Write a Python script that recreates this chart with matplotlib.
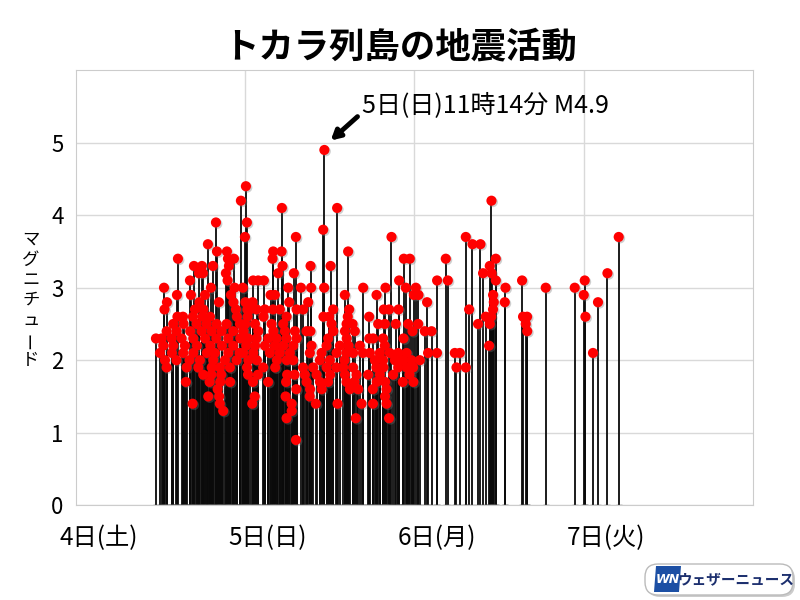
import matplotlib
matplotlib.use("Agg")
import matplotlib.pyplot as plt
import matplotlib.patheffects as pe
from matplotlib.patches import FancyBboxPatch, Polygon
import numpy as np

plt.rcParams['font.family'] = ['Noto Sans CJK JP', 'DejaVu Sans']

title = "トカラ列島の地震活動"
ylabel = "マグニチュード"
day_labels = ["4日(土)", "5日(日)", "6日(月)", "7日(火)"]
main_hour = 35.23   # 5日 11:14, hours since 4日 0:00
main_mag = 4.9
main_text = "5日(日)11時14分 M4.9"

# (hours since 4日 0:00, magnitude)
quakes_4 = [
    (24.10, 4.4), (23.39, 4.2), (24.24, 3.9), (23.96, 3.7), (19.85, 3.9), (18.71, 3.6),
    (19.99, 3.5), (21.41, 3.5), (14.46, 3.4), (21.55, 3.4), (22.40, 3.4), (21.69, 3.3),
    (16.73, 3.3), (17.86, 3.3), (19.42, 3.3), (17.44, 3.2), (18.00, 3.2), (21.26, 3.2),
    (16.16, 3.1), (21.50, 3.1), (12.48, 3.0), (19.14, 3.0), (22.50, 3.0), (23.67, 3.0),
    (12.90, 2.8), (14.32, 2.9), (16.30, 2.9), (18.29, 2.9), (21.97, 2.9), (12.55, 2.7),
    (17.51, 2.8), (20.27, 2.8), (22.33, 2.8), (24.03, 2.8),
    (16.87, 2.7), (18.07, 2.7), (22.68, 2.7), (24.30, 2.7),
    (14.39, 2.6), (15.17, 2.6), (16.59, 2.6), (17.95, 2.6), (19.00, 2.6), (22.82, 2.6), (24.35, 2.6),
    (13.79, 2.5), (15.25, 2.5), (17.11, 2.5), (18.53, 2.5), (19.95, 2.5), (21.36, 2.5), (23.25, 2.5),
    (12.86, 2.4), (14.28, 2.4), (16.20, 2.4), (17.82, 2.4), (19.24, 2.4), (20.65, 2.4), (22.30, 2.4),
    (23.72, 2.4),
    (11.34, 2.3), (12.15, 2.3), (13.57, 2.3), (14.98, 2.3), (16.63, 2.3), (18.30, 2.3), (19.90, 2.3),
    (21.59, 2.3), (23.30, 2.3), (24.43, 2.3),
    (12.38, 2.2), (13.80, 2.2), (15.45, 2.2), (17.15, 2.2), (19.05, 2.2), (20.70, 2.2), (22.30, 2.2),
    (24.15, 2.2),
    (11.91, 2.1), (13.60, 2.1), (15.21, 2.1), (16.65, 2.1), (18.55, 2.1), (19.71, 2.1), (21.60, 2.1),
    (23.20, 2.1),
    (12.62, 2.0), (14.25, 2.0), (16.10, 2.0), (17.58, 2.0), (19.47, 2.0), (21.12, 2.0), (22.78, 2.0),
    (12.85, 1.9), (15.69, 1.9), (17.34, 1.9), (19.25, 1.9), (20.41, 1.9), (21.83, 1.9),
    (18.05, 1.8), (19.20, 1.8), (20.60, 1.8),
    (15.59, 1.7), (18.95, 1.7), (20.45, 1.7), (21.85, 1.7),
    (20.09, 1.6), (18.76, 1.5), (20.31, 1.5), (16.54, 1.4), (20.40, 1.4), (20.88, 1.3),
]

quakes_5am = [
    (29.20, 4.1), (37.04, 4.1), (31.19, 3.7), (35.06, 3.8), (38.60, 3.5), (27.97, 3.5),
    (29.16, 3.5), (27.88, 3.4), (29.30, 3.3), (33.27, 3.3), (36.11, 3.3), (28.68, 3.2),
    (30.90, 3.2), (25.13, 3.1), (25.84, 3.1), (26.65, 3.1), (30.10, 3.0), (31.90, 3.0),
    (33.35, 3.0), (35.20, 3.0), (27.60, 2.9), (28.21, 2.9), (38.13, 2.9), (25.05, 2.8),
    (30.24, 2.8), (32.93, 2.8),
    (24.67, 2.7), (25.62, 2.7), (26.79, 2.7), (27.95, 2.7), (28.92, 2.7), (31.29, 2.7), (32.22, 2.7),
    (36.48, 2.7),
    (26.60, 2.6), (29.87, 2.6), (35.10, 2.6), (35.91, 2.6), (38.55, 2.6),
    (24.00, 2.5), (25.38, 2.5), (27.74, 2.5), (29.39, 2.5), (36.25, 2.5), (38.38, 2.5),
    (23.75, 2.4), (25.85, 2.4), (28.00, 2.4), (29.63, 2.4), (31.05, 2.4), (32.70, 2.4), (33.25, 2.4),
    (36.50, 2.4), (38.15, 2.4),
    (24.20, 2.3), (25.60, 2.3), (27.26, 2.3), (28.45, 2.3), (29.85, 2.3), (31.30, 2.3), (35.77, 2.3),
    (38.40, 2.3),
    (25.40, 2.2), (26.80, 2.2), (28.20, 2.2), (29.40, 2.2), (30.81, 2.2), (33.41, 2.2), (35.54, 2.2),
    (37.43, 2.2),
    (23.70, 2.1), (25.15, 2.1), (27.50, 2.1), (28.90, 2.1), (30.34, 2.1), (33.17, 2.1), (34.83, 2.1),
    (36.96, 2.1), (38.35, 2.1),
    (24.45, 2.0), (25.65, 2.0), (28.50, 2.0), (29.90, 2.0), (30.80, 2.0), (34.59, 2.0), (36.01, 2.0),
    (38.10, 2.0),
    (24.25, 1.9), (26.55, 1.9), (28.25, 1.9), (32.20, 1.9), (33.64, 1.9), (35.55, 1.9), (36.95, 1.9),
    (24.40, 1.8), (25.80, 1.8), (29.95, 1.8), (31.00, 1.8), (32.46, 1.8), (34.12, 1.8), (36.05, 1.8),
    (25.10, 1.7), (27.25, 1.7), (29.80, 1.7), (32.70, 1.7), (34.60, 1.7), (35.75, 1.7),
    (31.25, 1.6), (33.20, 1.6), (34.85, 1.6),
    (25.35, 1.5), (29.73, 1.5), (33.15, 1.5),
    (25.00, 1.4), (30.58, 1.4), (34.02, 1.4), (37.10, 1.4),
    (30.60, 1.3), (29.87, 1.2), (31.20, 0.9),
]

quakes_5pm = [
    (44.75, 3.7), (46.50, 3.4), (47.35, 3.4), (52.45, 3.4), (45.83, 3.1), (51.22, 3.1),
    (52.74, 3.1), (40.73, 3.0), (43.90, 3.0), (46.78, 3.0), (48.20, 3.0), (42.63, 2.9),
    (47.92, 2.9), (48.58, 2.9), (49.80, 2.8),
    (38.74, 2.7), (43.66, 2.7), (44.42, 2.7), (45.75, 2.7), (41.58, 2.6),
    (39.23, 2.5), (42.86, 2.5), (43.81, 2.5), (45.36, 2.5), (47.11, 2.5), (48.53, 2.5),
    (39.55, 2.4), (47.73, 2.4), (49.48, 2.4), (50.43, 2.4),
    (41.60, 2.3), (42.15, 2.3), (43.56, 2.3), (46.45, 2.3),
    (38.65, 2.2), (40.26, 2.2), (43.80, 2.2),
    (39.31, 2.1), (40.70, 2.1), (41.68, 2.1), (43.10, 2.1), (44.51, 2.1), (45.69, 2.1), (46.88, 2.1),
    (49.94, 2.1), (51.20, 2.1),
    (42.39, 2.0), (43.55, 2.0), (45.22, 2.0), (46.40, 2.0), (47.59, 2.0), (48.77, 2.0),
    (37.89, 1.9), (39.30, 1.9), (42.60, 1.9), (43.60, 1.9), (45.70, 1.9), (46.90, 1.9), (47.82, 1.9),
    (38.15, 1.8), (39.79, 1.8), (41.44, 1.8), (43.10, 1.8), (44.98, 1.8), (47.30, 1.8),
    (38.37, 1.7), (39.50, 1.7), (42.65, 1.7), (43.85, 1.7), (46.35, 1.7), (47.85, 1.7),
    (38.84, 1.6), (40.02, 1.6), (42.10, 1.6), (44.04, 1.6),
    (43.83, 1.5), (40.50, 1.4), (42.12, 1.4), (44.05, 1.4), (39.69, 1.2), (44.40, 1.2),
]

quakes_6 = [
    (58.93, 4.2), (55.29, 3.7), (56.24, 3.6), (57.37, 3.6), (76.98, 3.7), (59.54, 3.4),
    (58.69, 3.3), (57.74, 3.2), (58.95, 3.2), (75.38, 3.2), (59.55, 3.1), (63.27, 3.1),
    (72.16, 3.1), (60.92, 3.0), (66.63, 3.0), (70.74, 3.0), (59.16, 2.9), (72.02, 2.9),
    (59.26, 2.8), (60.82, 2.8), (74.04, 2.8), (55.76, 2.7), (59.15, 2.7), (58.12, 2.6),
    (58.90, 2.6), (63.41, 2.6), (63.98, 2.6), (72.26, 2.6), (57.03, 2.5), (58.70, 2.5),
    (63.79, 2.5), (64.00, 2.4), (58.59, 2.2), (53.73, 2.1), (54.44, 2.1), (73.33, 2.1),
    (53.97, 1.9), (55.30, 1.9),
]

data = quakes_4 + quakes_5am + quakes_5pm + quakes_6 + [(main_hour, main_mag)]
hours = np.array([q[0] for q in data])
mags = np.array([q[1] for q in data])

fig = plt.figure(figsize=(8, 6), dpi=100)
ax = fig.add_axes([0.095, 0.158, 0.846, 0.725])

# stems, little foot marks, red heads
ax.vlines(hours, 0, mags, color='#0a0a0a', lw=1.3, zorder=2)
ax.plot(hours, np.zeros_like(hours), ls='none', marker='_', ms=5, mew=1, color='#555555', zorder=2)
ax.plot(hours, mags, ls='none', marker='o', ms=7.3, mew=0, color='#ff0000', zorder=3,
        path_effects=[pe.SimplePatchShadow(offset=(1, -1), shadow_rgbFace='#777777', alpha=0.35),
                      pe.Normal()])

ax.set_xlim(0, 96)
ax.set_ylim(0, 6)
ax.set_yticks(range(6))
ax.tick_params(axis='y', length=0, pad=9, labelsize=16)
ax.set_xticks([24 * i + 3.2 for i in range(4)])
ax.set_xticklabels(day_labels, fontsize=17.5)
ax.set_xticks([24, 48, 72], minor=True)
ax.tick_params(axis='x', which='both', length=0, pad=14)
ax.yaxis.grid(True, color='#d9d9d9', lw=1)
ax.xaxis.grid(True, which='minor', color='#d9d9d9', lw=1)
ax.set_axisbelow(True)
for s in ax.spines.values():
    s.set_color('#cccccc')

# biggest one
ax.annotate('', xy=(main_hour + 0.9, main_mag + 0.13), xytext=(main_hour + 4.7, main_mag + 0.46),
            arrowprops=dict(arrowstyle='-|>,head_length=0.55,head_width=0.3', lw=3.5,
                            color='black', shrinkA=0, shrinkB=0), zorder=5)
ax.text(main_hour + 5.3, main_mag + 0.62, main_text, fontsize=18, va='center', ha='left', zorder=5)

fig.text(0.5, 1 - 47 / 600, title, ha='center', va='center', fontsize=25.5, fontweight='bold')

# vertical y label, one character at a time
for i, ch in enumerate(ylabel):
    fig.text(31 / 800, 1 - (240 + i * 20) / 600, ch, ha='center', va='center', fontsize=12.5,
             rotation=90 if ch == 'ー' else 0)

# logo
lax = fig.add_axes([643 / 800, 1 / 600, 156 / 800, 38 / 600])
lax.set_xlim(0, 156)
lax.set_ylim(0, 38)
lax.axis('off')
lax.add_patch(FancyBboxPatch((4, 2), 148, 31, boxstyle='round,pad=0,rounding_size=13',
                             fc='#cccccc', ec='none'))
lax.add_patch(FancyBboxPatch((2, 4), 148, 31, boxstyle='round,pad=0,rounding_size=13',
                             fc='white', ec='#bbbbbb', lw=1))
lax.add_patch(Polygon([(11, 7), (36, 7), (38, 33), (13, 33)], closed=True, fc='#1c4fa4', ec='none'))
lax.text(24.5, 19.5, 'WN', color='white', fontsize=9, fontweight='bold', style='italic',
         ha='center', va='center', family=['DejaVu Sans'])
lax.text(93, 19.5, 'ウェザーニュース', color='#1c2f6e', fontsize=10.5, fontweight='bold',
         ha='center', va='center')

fig.savefig('out.png', dpi=100)
